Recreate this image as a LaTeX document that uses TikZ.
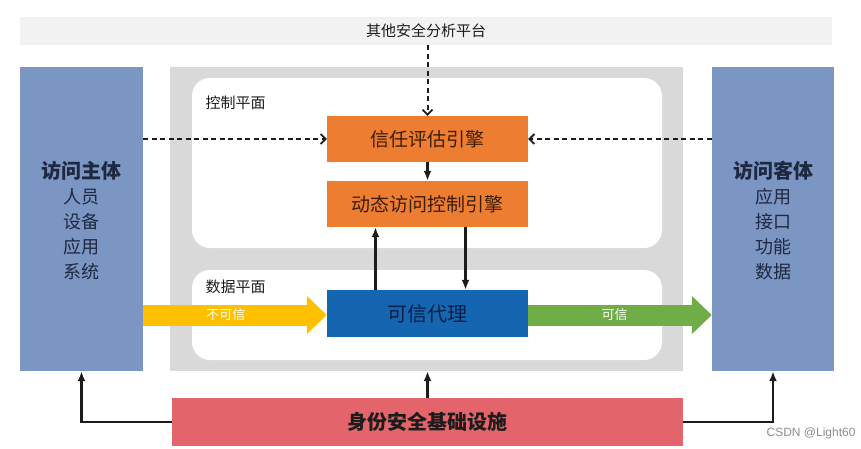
\documentclass[tikz,border=0pt]{standalone}
\usepackage{fontspec}
\setmainfont{Noto Sans CJK SC}
\newfontfamily\wmfont{Liberation Sans}
\usetikzlibrary{arrows.meta,positioning}
\definecolor{ink}{HTML}{1C1C1C}
\definecolor{sideC}{HTML}{7C96C4}
\definecolor{sideTxt}{HTML}{1E2840}
\definecolor{platC}{HTML}{F2F2F2}
\definecolor{coreC}{HTML}{D9D9D9}
\definecolor{engC}{HTML}{ED7D31}
\definecolor{engTxt}{HTML}{3B1E08}
\definecolor{proxC}{HTML}{1466B0}
\definecolor{proxTxt}{HTML}{0B1F44}
\definecolor{yelC}{HTML}{FFC000}
\definecolor{grnC}{HTML}{70AD47}
\definecolor{idC}{HTML}{E3646B}
\tikzset{>={Latex[length=10pt,width=8pt]},
  sidebox/.style={fill=sideC,minimum width=123pt,minimum height=304pt,inner sep=0pt},
  sidetxt/.style={text=sideTxt,align=center,font=\fontsize{18}{25}\selectfont},
  plane/.style={fill=white,rounded corners=18pt,minimum width=470pt,inner sep=0pt},
  planelab/.style={font=\fontsize{15}{18}\selectfont,text=ink,anchor=west},
  engine/.style={fill=engC,minimum width=201pt,minimum height=46pt,text=engTxt,font=\fontsize{19}{22}\selectfont},
  dashln/.style={->,>={Straight Barb[length=5pt,width=10pt,line width=1.8pt]},ink,line width=2pt,dash pattern=on 5pt off 3.5pt},
  link/.style={->,ink,line width=2.2pt},
  fatarrow/.style={line width=21pt,-{Triangle[length=20pt,width=37pt]}},
  arrlab/.style={text=white,font=\fontsize{13}{15}\selectfont,inner sep=0pt}}

\begin{document}
\begin{tikzpicture}[x=1pt,y=-1pt]
\useasboundingbox (0,0) rectangle (861,448);
\fill[white] (0,0) rectangle (861,448);
\node[fill=platC,minimum width=812pt,minimum height=28pt,inner sep=0pt,font=\fontsize{15}{18}\selectfont,text=ink] (plat) at (426,31) {其他安全分析平台};
\node[sidebox] (subj) at (81.5,219) {};
\node[sidetxt] at (81.5,221) {{\fontsize{20}{25}\selectfont\bfseries 访问主体}\\人员\\设备\\应用\\系统};
\node[sidebox,minimum width=122pt] (obj) at (773,219) {};
\node[sidetxt] at (773,221) {{\fontsize{20}{25}\selectfont\bfseries 访问客体}\\应用\\接口\\功能\\数据};
\node[fill=coreC,minimum width=513pt,minimum height=304pt,inner sep=0pt] (core) at (426.5,219) {};
\node[plane,minimum height=170pt] (ctrl) at (427,163) {};
\node[plane,minimum height=90pt] (data) at (427,315) {};
\node[planelab] at (202,103) {控制平面};
\node[planelab] at (202,287) {数据平面};
\node[engine] (eval) at (427.5,139) {信任评估引擎};
\node[engine] (dyn) at (427.5,204) {动态访问控制引擎};
\node[fill=proxC,minimum width=201pt,minimum height=47pt,text=proxTxt,font=\fontsize{20}{24}\selectfont] (proxy) at (427.5,313.5) {可信代理};
\node[fill=idC,minimum width=511pt,minimum height=48pt,text=ink,font=\fontsize{20}{24}\selectfont\bfseries] (base) at (427.5,422) {身份安全基础设施};
\draw[dashln] (eval.north |- plat.south) -- (eval.north);
\draw[dashln] (subj.east |- eval) -- (eval.west);
\draw[dashln] (obj.west |- eval) -- (eval.east);
\draw[link] (eval) -- (dyn);
\draw[link] ([xshift=-52pt]proxy.north) -- ([xshift=-52pt]dyn.south);
\draw[link] ([xshift=38pt]dyn.south) -- ([xshift=38pt]proxy.north);
\draw[fatarrow,yelC] ([yshift=-1.5pt]subj.east |- proxy) -- node[arrlab,pos=0.45]{不可信} ([yshift=-1.5pt]proxy.west);
\draw[fatarrow,grnC] ([yshift=-1.5pt]proxy.east) -- node[arrlab,pos=0.47]{可信} ([yshift=-1.5pt]obj.west |- proxy);
\draw[link] (base.north) -- (base.north |- core.south);
\draw[link] (base.west) -| (subj.south);
\draw[link] (base.east) -| (obj.south);
\node[anchor=east,text=black!45,font=\wmfont\fontsize{12}{14}\selectfont] (wm) at (859,433) {CSDN @Light60};
\end{tikzpicture}
\end{document}
